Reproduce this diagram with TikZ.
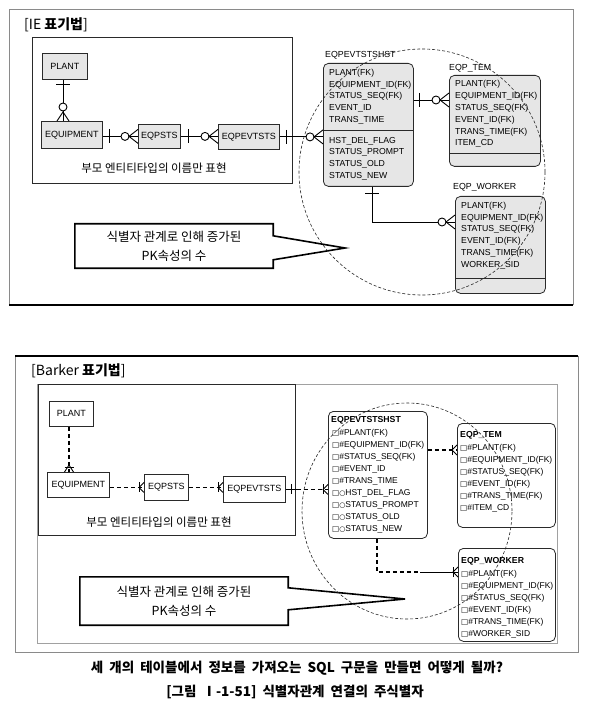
\documentclass[tikz,border=0pt]{standalone}
\usepackage{fontspec}
\setmainfont{Liberation Sans}
\newfontfamily\krfont{Noto Sans CJK KR}
\newfontfamily\symfont{DejaVu Sans}
\usetikzlibrary{calc}
\definecolor{boxgray}{HTML}{E6E6E6}
\definecolor{framegray}{HTML}{8A8A8A}
\definecolor{inkdark}{HTML}{2A2A2A}
\newcommand{\ieBarV}[2]{\draw[iemark] ($#1+(#2,-7)$) -- ($#1+(#2,7)$);}
\newcommand{\ieBarH}[2]{\draw[iemark] ($#1+(-7,#2)$) -- ($#1+(7,#2)$);}
\newcommand{\ieCrowH}[1]{%
  \draw[iemark,fill=white] ($#1+(-13,0)$) circle[radius=4pt];
  \draw[iemark] ($#1+(0,-7)$) -- ($#1+(-9,0)$) -- ($#1+(0,7)$);}
\newcommand{\ieCrowV}[1]{%
  \draw[iemark,fill=white] ($#1+(0,-14)$) circle[radius=4pt];
  \draw[iemark] ($#1+(-6,0)$) -- ($#1+(0,-9)$) -- ($#1+(6,0)$);}
\newcommand{\bkKh}[1]{%
  \draw[bkmark] ($#1+(-5,-5)$) -- ($#1+(-5,5)$);
  \draw[bkmark] ($#1+(0,-5)$) -- ($#1+(-5,0)$) -- ($#1+(0,5)$);}
\newcommand{\bkKv}[1]{%
  \draw[bkmark] ($#1+(-4.5,-5)$) -- ($#1+(4.5,-5)$);
  \draw[bkmark] ($#1+(-4.5,0)$) -- ($#1+(0,-7)$) -- ($#1+(4.5,0)$);}
\newcommand{\bxsym}{{\symfont\fontsize{7.5}{8}\selectfont □}}
\newcommand{\cisym}{{\symfont\fontsize{7}{8}\selectfont ○}}
\tikzset{
  iemark/.style={line width=0.9pt, black},
  ierel/.style={line width=0.9pt, black},
  bkmark/.style={line width=0.9pt, black, solid},
  bkrel/.style={line width=1.1pt, black, dash pattern=on 4pt off 3pt},
  iebox/.style={draw=inkdark, line width=0.8pt, fill=boxgray, anchor=north west, inner sep=0pt, font=\fontsize{9}{10}\selectfont},
  bkbox/.style={draw=inkdark, line width=0.8pt, fill=white, anchor=north west, inner sep=0pt, font=\fontsize{9}{10}\selectfont},
  entbox/.style={draw=inkdark, line width=0.8pt, fill=boxgray, rounded corners=5pt, anchor=north west, inner sep=0pt},
  bkent/.style={draw=inkdark, line width=0.8pt, fill=white, rounded corners=5pt, anchor=north west, inner sep=0pt},
  attr/.style={anchor=base west, inner sep=0pt, font=\fontsize{8.7}{10}\selectfont},
  bkattr/.style={anchor=base west, inner sep=0pt, font=\fontsize{8.5}{10}\selectfont},
  entlabel/.style={anchor=base west, inner sep=0pt, font=\fontsize{8.8}{10}\selectfont},
  bklabel/.style={anchor=base west, inner sep=0pt, font=\bfseries\fontsize{8.7}{10}\selectfont},
  krtext/.style={font=\krfont\fontsize{11.5}{13}\selectfont, inner sep=0pt},
  paneltitle/.style={anchor=west, inner sep=0pt, font=\krfont\fontsize{14}{16}\selectfont},
  callout/.style={align=center, inner sep=0pt, font=\krfont\fontsize{12.5}{19}\selectfont},
  calloutline/.style={line width=1.6pt, black, line join=miter},
  circdash/.style={line width=0.6pt, black!85, dash pattern=on 3pt off 2pt},
  framethin/.style={framegray, line width=0.8pt},
  framethick/.style={black, line width=1.5pt},
  divider/.style={inkdark, line width=0.8pt},
  caption/.style={inner sep=0pt, font=\krfont\bfseries\fontsize{13.5}{15}\selectfont},
}
\begin{document}
\begin{tikzpicture}[x=1pt,y=-1pt]
\useasboundingbox (0,0) rectangle (590,708);
\fill[white] (0,0) rectangle (590,708);

%%%%%%%%%%%%%%%% TOP PANEL (IE) %%%%%%%%%%%%%%%%
\draw[framethin] (9,305) -- (9,9) -- (573,9) -- (573,305);
\draw[framethick] (9,305) -- (573,305);
\node[paneltitle] (ietitle) at (24,25) {[IE {\bfseries 표기법}]};
\draw[inkdark, line width=0.8pt] (32,37) rectangle (292,183);

\node[iebox, minimum width=45pt, minimum height=26pt] (plant) at (42,53) {PLANT};
\node[iebox, minimum width=61pt, minimum height=27pt] (equip) at (41,121) {EQUIPMENT};
\node[iebox, minimum width=42pt, minimum height=24pt] (eqpsts) at (138,124) {EQPSTS};
\node[iebox, minimum width=61pt, minimum height=25pt] (eqpevt) at (218,124) {EQPEVTSTS};
\node[krtext] (iecap) at (154,168) {부모 엔티티타입의 이름만 표현};

% entities right
\node[entlabel] (hstlab) at (325,58) {EQPEVTSTSHST};
\node[entbox, minimum width=90pt, minimum height=123pt] (hst) at (323,63) {};
\draw[divider] ($(hst.north west)+(0,67)$) -- ($(hst.north east)+(0,67)$);
\foreach \t [count=\i] in {PLANT(FK),EQUIPMENT\_ID(FK),STATUS\_SEQ(FK),EVENT\_ID,TRANS\_TIME}
  \node[attr] (hstk\i) at (329,{75.5+(\i-1)*11.7}) {\t};
\foreach \t [count=\i] in {HST\_DEL\_FLAG,STATUS\_PROMPT,STATUS\_OLD,STATUS\_NEW}
  \node[attr] (hstn\i) at (329,{143.3+(\i-1)*11.7}) {\t};

\node[entlabel] (temlab) at (449,71) {EQP\_TEM};
\node[entbox, minimum width=91pt, minimum height=91pt] (tem) at (449,75) {};
\draw[divider] ($(tem.north west)+(0,78)$) -- ($(tem.north east)+(0,78)$);
\foreach \t [count=\i] in {PLANT(FK),EQUIPMENT\_ID(FK),STATUS\_SEQ(FK),EVENT\_ID(FK),TRANS\_TIME(FK),ITEM\_CD}
  \node[attr] (temk\i) at (455,{87+(\i-1)*11.8}) {\t};

\node[entlabel] (wrklab) at (453,190) {EQP\_WORKER};
\node[entbox, minimum width=90pt, minimum height=97pt] (worker) at (455,196) {};
\draw[divider] ($(worker.north west)+(0,82)$) -- ($(worker.north east)+(0,82)$);
\foreach \t [count=\i] in {PLANT(FK),EQUIPMENT\_ID(FK),STATUS\_SEQ(FK),EVENT\_ID(FK),TRANS\_TIME(FK),WORKER\_SID}
  \node[attr] (wrkk\i) at (461,{208.5+(\i-1)*11.7}) {\t};

% IE relationships
\coordinate (c1) at (63,0);
\draw[ierel] (plant.south -| c1) -- (equip.north -| c1);
\ieBarH{(plant.south -| c1)}{5}
\ieCrowV{(equip.north -| c1)}

\draw[ierel] (equip.east |- eqpsts.west) -- (eqpsts.west);
\ieBarV{(equip.east |- eqpsts.west)}{7}
\ieCrowH{(eqpsts.west)}

\draw[ierel] (eqpsts.east) -- (eqpsts.east -| eqpevt.west);
\ieBarV{(eqpsts.east)}{8}
\ieCrowH{(eqpsts.east -| eqpevt.west)}

\draw[ierel] (eqpevt.east) -- (eqpevt.east -| hst.west);
\ieBarV{(eqpevt.east)}{7}
\ieCrowH{(eqpevt.east -| hst.west)}

\coordinate (r2) at (0,100);
\draw[ierel] (hst.east |- r2) -- (tem.west |- r2);
\ieBarV{(hst.east |- r2)}{6}
\ieCrowH{(tem.west |- r2)}

\coordinate (r3) at (372,222);
\draw[ierel] (hst.south -| r3) -- (r3) -- (worker.west |- r3);
\ieBarH{(hst.south -| r3)}{7}
\ieCrowH{(worker.west |- r3)}

% callout
\node[callout, minimum width=198pt, minimum height=44pt] (call1) at (174,246) {식별자 관계로 인해 증가된\\PK속성의 수};
\coordinate (tip1) at (345,248);
\draw[calloutline] (call1.north west) -- (call1.north east) -- ($(call1.north east)+(0,12)$) -- (tip1) -- ($(call1.north east)+(0,36)$) -- (call1.south east) -- (call1.south west) -- cycle;

\draw[circdash] (422,172) circle[radius=123pt];

%%%%%%%%%%%%%%%% BOTTOM PANEL (Barker) %%%%%%%%%%%%%%%%
\draw[framethin] (15,356) -- (15,652) -- (578,652) -- (578,356);
\draw[framethick] (15,356) -- (578,356);
\node[paneltitle] (bktitle) at (31,371) {[Barker {\bfseries 표기법}]};
\draw[framegray!80, line width=0.8pt] (37,384) rectangle (557,643);
\draw[inkdark, line width=0.8pt] (38,384) rectangle (295,535);

\node[bkbox, minimum width=44pt, minimum height=25pt] (bplant) at (49,401) {PLANT};
\node[bkbox, minimum width=62pt, minimum height=25pt] (bequip) at (47,472) {EQUIPMENT};
\node[bkbox, minimum width=44pt, minimum height=26pt] (beqpsts) at (144,474) {EQPSTS};
\node[bkbox, minimum width=62pt, minimum height=26pt] (beqpevt) at (223,476) {EQPEVTSTS};
\node[krtext] (bkcap) at (159,522) {부모 엔티티타입의 이름만 표현};

\node[bkent, minimum width=99pt, minimum height=127pt] (bhst) at (328,411) {};
\node[bklabel] (bhstlab) at (331,422.5) {EQPEVTSTSHST};
\foreach \t [count=\i] in {\bxsym\#PLANT(FK),\bxsym\#EQUIPMENT\_ID(FK),\bxsym\#STATUS\_SEQ(FK),\bxsym\#EVENT\_ID,\bxsym\#TRANS\_TIME,\bxsym\cisym HST\_DEL\_FLAG,\bxsym\cisym STATUS\_PROMPT,\bxsym\cisym STATUS\_OLD,\bxsym\cisym STATUS\_NEW}
  \node[bkattr] (bhstk\i) at (332,{435.3+(\i-1)*12}) {\t};

\node[bkent, minimum width=98pt, minimum height=104pt] (btem) at (457,423) {};
\node[bklabel] (btemlab) at (460,437) {EQP\_TEM};
\foreach \t [count=\i] in {\bxsym\#PLANT(FK),\bxsym\#EQUIPMENT\_ID(FK),\bxsym\#STATUS\_SEQ(FK),\bxsym\#EVENT\_ID(FK),\bxsym\#TRANS\_TIME(FK),\bxsym\#ITEM\_CD}
  \node[bkattr] (btemk\i) at (460,{450.3+(\i-1)*12}) {\t};

\node[bkent, minimum width=97pt, minimum height=93pt] (bworker) at (458,548) {};
\node[bklabel] (bwrklab) at (461,563) {EQP\_WORKER};
\foreach \t [count=\i] in {\bxsym\#PLANT(FK),\bxsym\#EQUIPMENT\_ID(FK),\bxsym\#STATUS\_SEQ(FK),\bxsym\#EVENT\_ID(FK),\bxsym\#TRANS\_TIME(FK),\bxsym\#WORKER\_SID}
  \node[bkattr] (bwrkk\i) at (461,{576.3+(\i-1)*12}) {\t};

% Barker relationships
\coordinate (bc1) at (69,0);
\draw[bkrel] (bplant.south -| bc1) -- (bequip.north -| bc1);
\bkKv{(bequip.north -| bc1)}

\draw[bkrel] (bequip.east |- beqpsts.west) -- (beqpsts.west);
\bkKh{(beqpsts.west)}

\draw[bkrel] (beqpsts.east) -- (beqpsts.east -| beqpevt.west);
\bkKh{(beqpsts.east -| beqpevt.west)}

\draw[ierel] (beqpevt.east) -- ++(11,0) coordinate (bq1);
\draw[bkrel] (bq1) -- (bq1 -| bhst.west);
\draw[bkmark] ($(beqpevt.east)+(6,-5)$) -- ($(beqpevt.east)+(6,5)$);
\bkKh{(bq1 -| bhst.west)}

\coordinate (br2) at (0,450);
\draw[bkrel] (bhst.east |- br2) -- (btem.west |- br2);
\bkKh{(btem.west |- br2)}

\coordinate (br3) at (377,572);
\coordinate (br4) at (420,572);
\draw[bkrel] (bhst.south -| br3) -- (br3) -- (br4);
\draw[ierel] (br4) -- (bworker.west |- br4);
\bkKh{(bworker.west |- br4)}

% callout
\node[callout, minimum width=208pt, minimum height=48pt] (call2) at (184,601) {식별자 관계로 인해 증가된\\PK속성의 수};
\coordinate (tip2) at (405,599);
\draw[calloutline] (call2.north west) -- (call2.north east) -- ($(call2.north east)+(0,11)$) -- (tip2) -- ($(call2.north east)+(0,33)$) -- (call2.south east) -- (call2.south west) -- cycle;

\draw[circdash] (407,511) ellipse[x radius=105pt, y radius=108pt];

%%%%%%%%%%%%%%%% CAPTIONS %%%%%%%%%%%%%%%%
\node[caption] (cap1) at (297,668) {\spaceskip=0.45em\relax 세 개의 테이블에서 정보를 가져오는 SQL 구문을 만들면 어떻게 될까?};
\node[caption] (cap2) at (295,692) {\spaceskip=0.45em\relax [그림 Ⅰ-1-51] 식별자관계 연결의 주식별자};
\end{tikzpicture}
\end{document}
